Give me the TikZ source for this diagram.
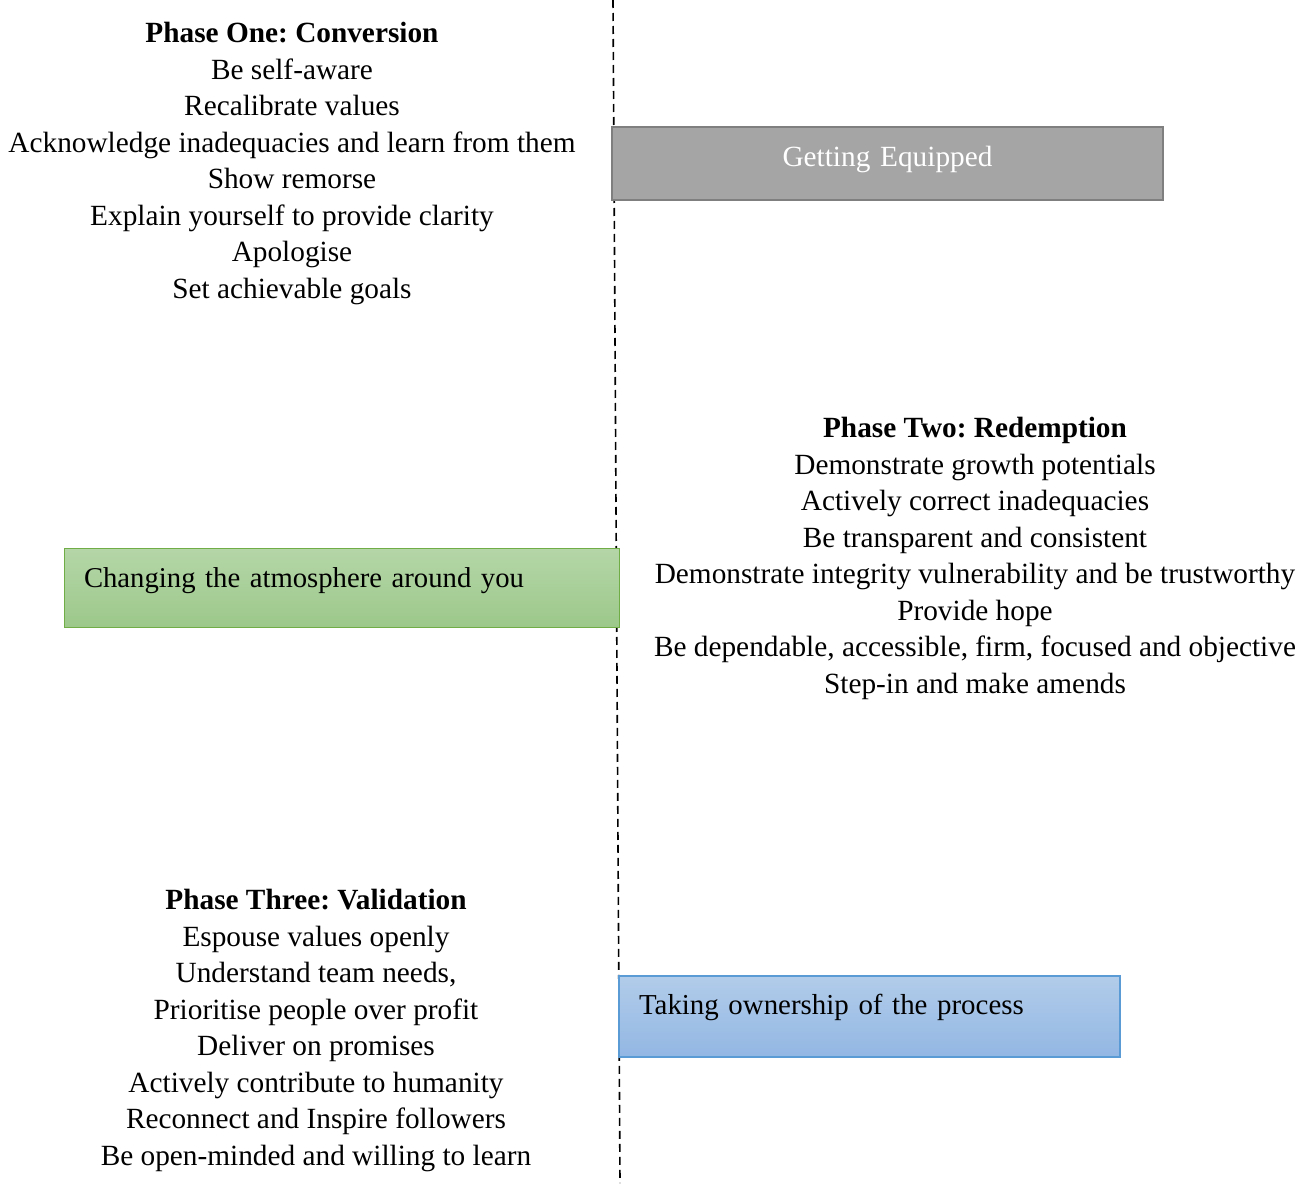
\documentclass[tikz,border=0pt]{standalone}
\usepackage{fontspec}
\setmainfont{Liberation Serif}
\usepackage{tikz}
\usetikzlibrary{positioning}
\frenchspacing
\definecolor{eqfill}{HTML}{A5A5A5}
\definecolor{eqline}{HTML}{7F7F7F}
\definecolor{attop}{HTML}{B5D6A8}
\definecolor{atbot}{HTML}{9CC88A}
\definecolor{atline}{HTML}{70AD47}
\definecolor{owtop}{HTML}{B2CCEA}
\definecolor{owbot}{HTML}{92B7E3}
\definecolor{owline}{HTML}{5B9BD5}
\tikzset{
  txt/.style={font=\fontsize{29.3}{36.5}\selectfont},
  phase/.style={txt, align=center, inner sep=0pt, anchor=base},
  bar/.style={txt, anchor=north west, inner ysep=0pt, outer sep=0pt},
  equip/.style={bar, draw=eqline, line width=2pt, fill=eqfill, text=white, align=center, inner xsep=0pt},
  atmo/.style={bar, font=\fontsize{28.7}{36.5}\selectfont, draw=atline, line width=1pt, top color=attop, bottom color=atbot, align=left, inner xsep=20pt},
  own/.style={bar, font=\fontsize{28.9}{36.5}\selectfont, draw=owline, line width=1.2pt, top color=owtop, bottom color=owbot, align=left, inner xsep=20pt},
  divider/.style={line width=1.6pt, dash pattern=on 8pt off 5pt}
}

\begin{document}
\begin{tikzpicture}[x=1pt, y=-1pt]
    \useasboundingbox (0,0) rectangle (1314,1183);
    \coordinate (top) at (613,0);
    \coordinate (bot) at (620,1183);
    \draw[divider] (top) -- (bot);

    % base = baseline of the last line
    \node[phase] (one) at (292,298) {\textbf{Phase One: Conversion}\\ Be self-aware\\ Recalibrate values\\ Acknowledge inadequacies and learn from them\\ Show remorse\\ Explain yourself to provide clarity\\ Apologise\\ Set achievable goals};
    \node[phase] (two) at (975,693) {\textbf{Phase Two: Redemption}\\ Demonstrate growth potentials\\ Actively correct inadequacies\\ Be transparent and consistent\\ Demonstrate integrity vulnerability and be trustworthy\\ Provide hope\\ Be dependable, accessible, firm, focused and objective\\ Step-in and make amends};
    \node[phase] (three) at (316,1165) {\textbf{Phase Three: Validation}\\ Espouse values openly\\ Understand team needs,\\ Prioritise people over profit\\ Deliver on promises\\ Actively contribute to humanity\\ Reconnect and Inspire followers\\ Be open-minded and willing to learn};

    \node[equip, text width=551pt, text height=39.5pt, text depth=33.5pt] (equipped) at (612,127) {Getting Equipped};
    \node[atmo, text width=515pt, text height=39.5pt, text depth=39.5pt] (atmosphere) at (64,548) {Changing the atmosphere around you};
    \node[own, text width=461pt, text height=38.5pt, text depth=42.5pt] (ownership) at (619,976) {Taking ownership of the process};
  \end{tikzpicture}
\end{document}
